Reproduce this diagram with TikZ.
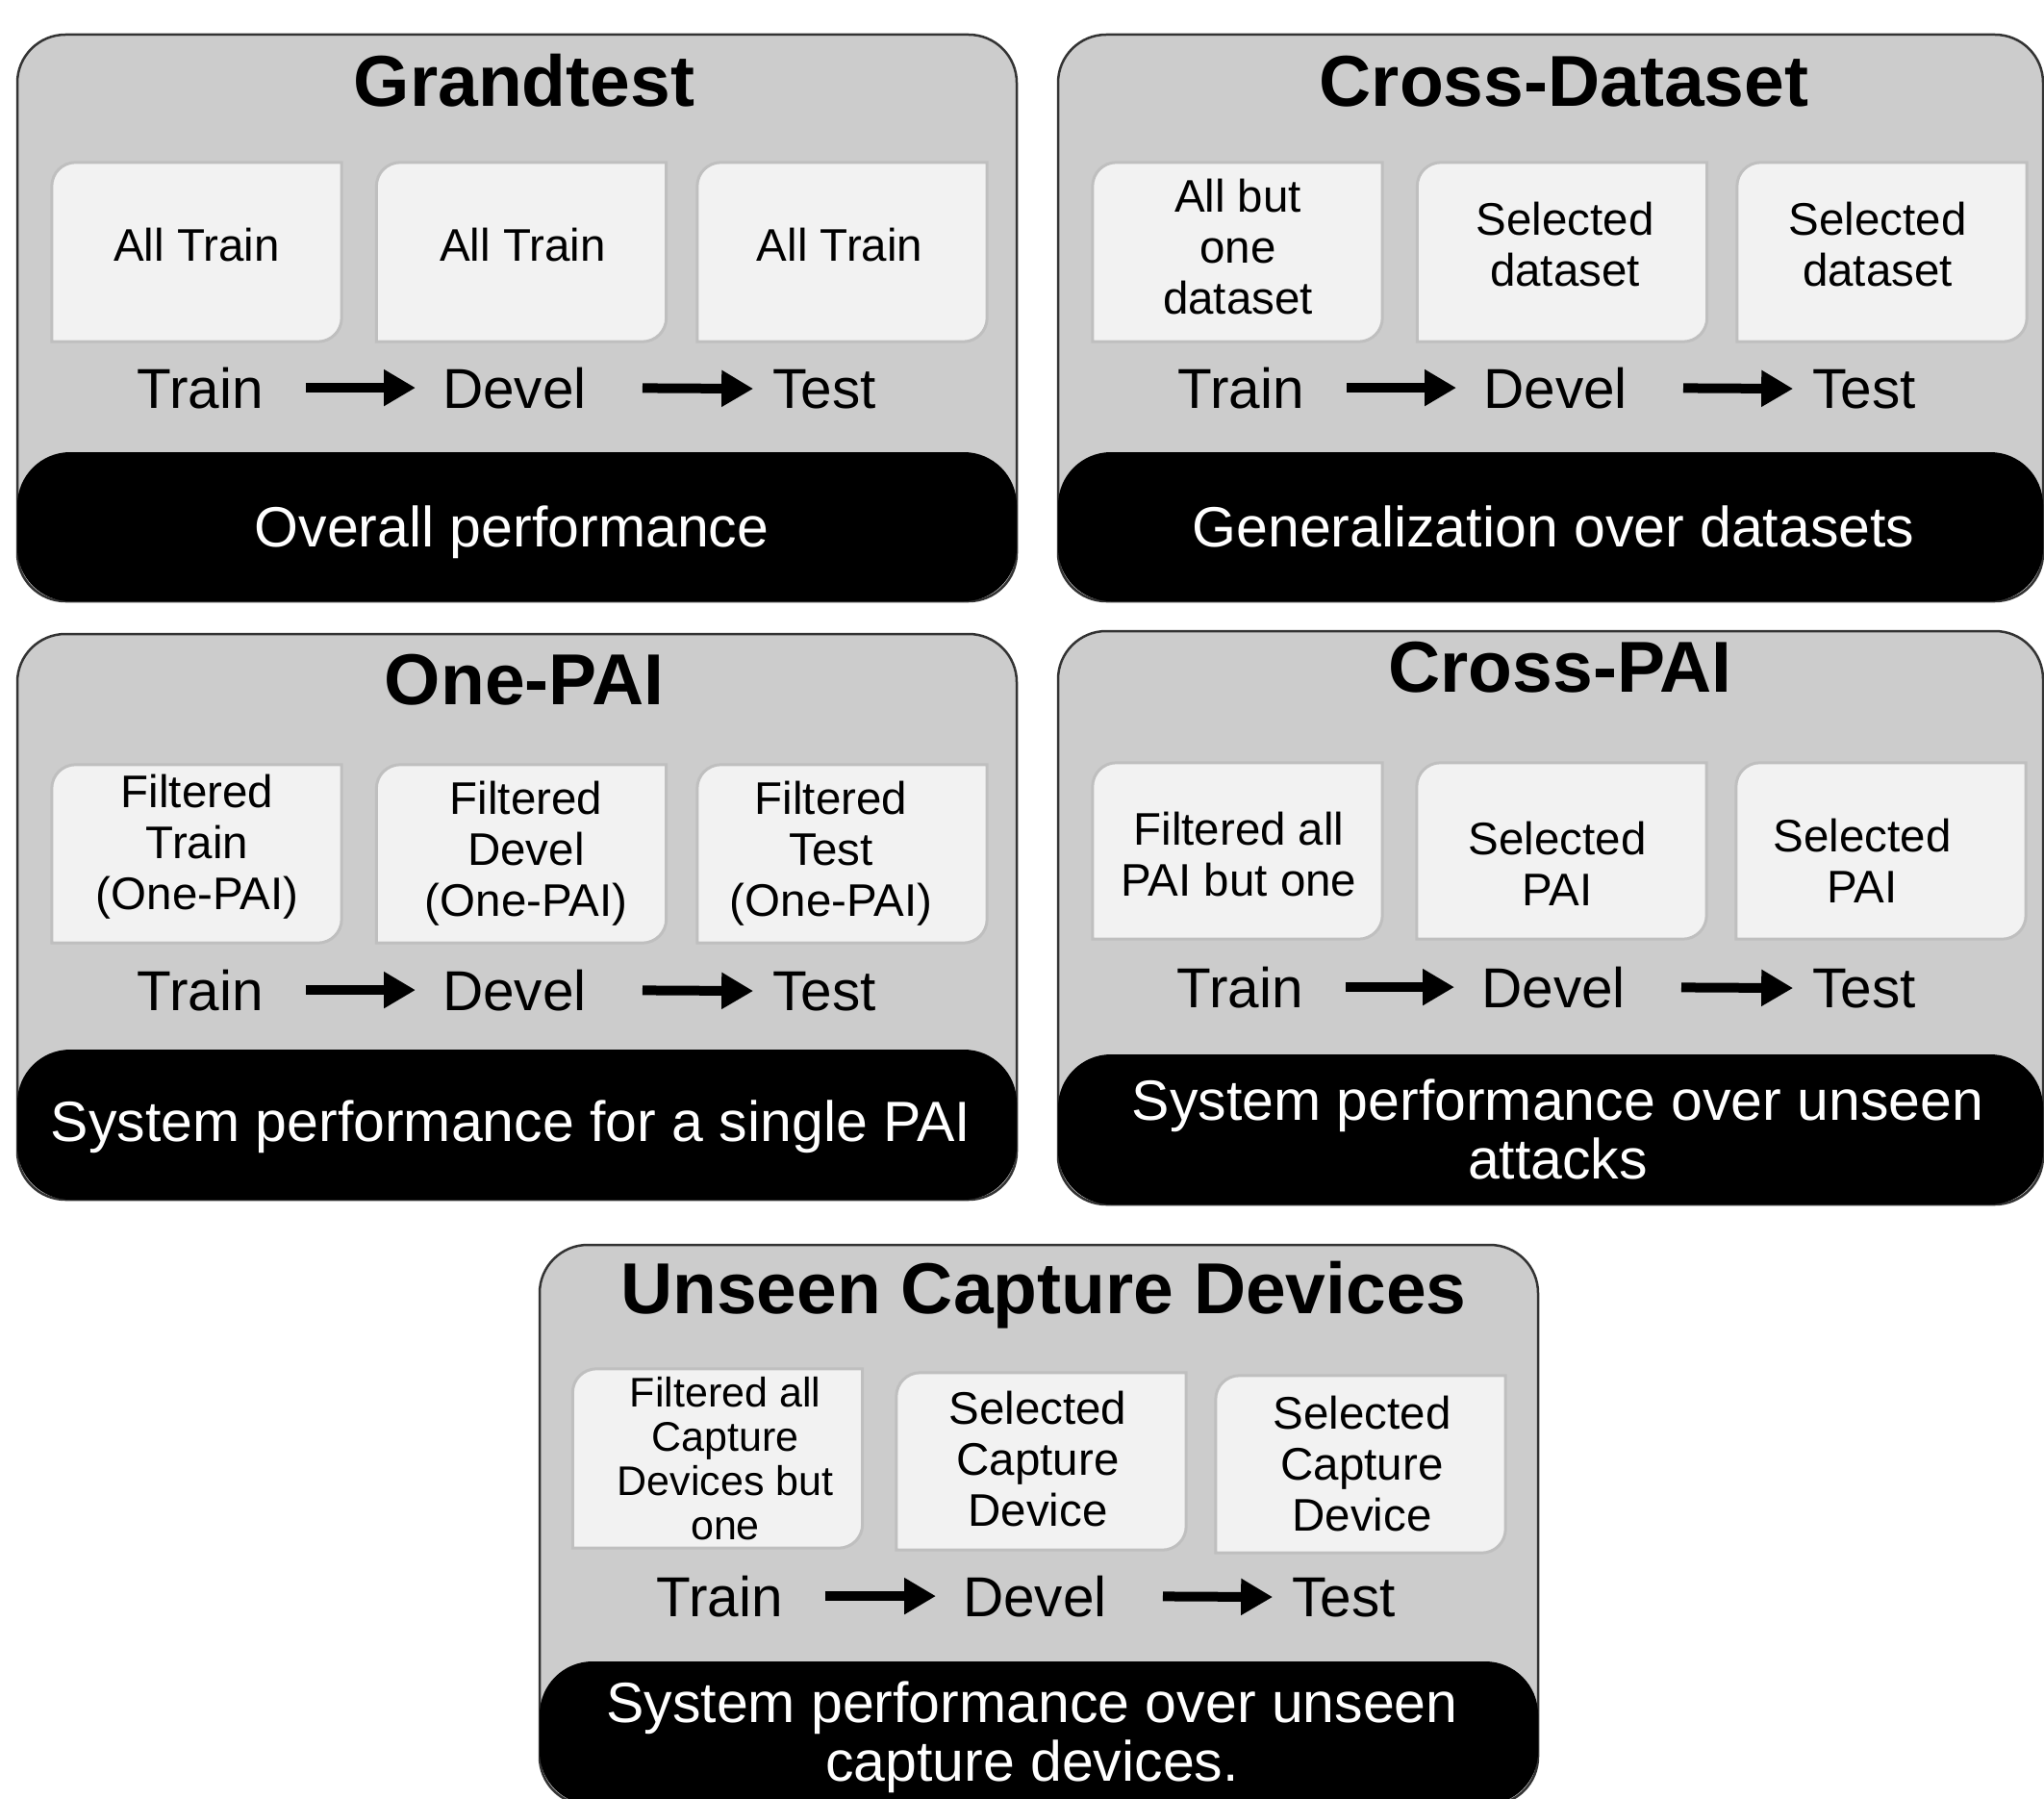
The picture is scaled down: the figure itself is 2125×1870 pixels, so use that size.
\documentclass[tikz,border=0pt]{standalone}
\usepackage{fontspec}
\setmainfont{Liberation Sans}
\usetikzlibrary{arrows.meta}
\definecolor{panelgray}{HTML}{CCCCCC}
\definecolor{boxfill}{HTML}{F2F2F2}
\definecolor{boxedge}{HTML}{BFBFBF}
\definecolor{paneledge}{HTML}{333333}
\tikzset{
 panel/.style={draw=paneledge, line width=2.5pt, fill=panelgray, rounded corners=50pt, inner sep=0pt},
 bar/.style={fill=black, rounded corners=55pt, inner sep=0pt},
 bartxt/.style={text=white, font=\fontsize{59}{61}\selectfont, align=center, inner sep=0pt},
 ttl/.style={font=\bfseries\fontsize{75}{80}\selectfont, anchor=base, inner sep=0pt},
 lbl/.style={font=\fontsize{58.5}{60}\selectfont, anchor=base, inner sep=0pt},
 ibox/.style={inner sep=0pt, minimum width=301pt},
 boxtxt/.style={font=\fontsize{47.5}{53}\selectfont, align=center, inner sep=0pt},
 smalltxt/.style={font=\fontsize{43}{46}\selectfont},
 flow/.style={-{Triangle[length=33pt,width=36pt]}, line width=10pt},
 gapa/.style={shorten <=44pt, shorten >=28pt},
 gapb/.style={shorten <=58pt, shorten >=20pt},
 boxline/.style={draw=boxedge, line width=3pt, fill=boxfill},
}
\newcommand{\cutbox}[1]{%
\draw[boxline] (#1.south west) -- ([yshift=-25pt]#1.north west)
  .. controls ([yshift=-11pt]#1.north west) and ([xshift=11pt]#1.north west) .. ([xshift=25pt]#1.north west)
  -- (#1.north east) -- ([yshift=25pt]#1.south east)
  .. controls ([yshift=11pt]#1.south east) and ([xshift=-11pt]#1.south east) .. ([xshift=-25pt]#1.south east)
  -- cycle;}
\begin{document}
\begin{tikzpicture}[x=1pt,y=-1pt]
\useasboundingbox (0,0) rectangle (2125,1870);

% ---------- panels and bars ----------
\node[panel, minimum width=1039pt, minimum height=589pt] (p1) at (537.5,330.5) {};
\node[panel, minimum width=1024pt, minimum height=589pt] (p2) at (1612,330.5) {};
\node[panel, minimum width=1039pt, minimum height=588pt] (p3) at (537.5,953) {};
\node[panel, minimum width=1024pt, minimum height=596pt] (p4) at (1612,954) {};
\node[panel, minimum width=1038pt, minimum height=582pt] (p5) at (1080,1585) {};

\node[bar, minimum width=1039pt, minimum height=155pt] (b1) at (537.5,547.5) {};
\node[bar, minimum width=1024pt, minimum height=155pt] (b2) at (1612,547.5) {};
\node[bar, minimum width=1039pt, minimum height=156pt] (b3) at (537.5,1169) {};
\node[bar, minimum width=1024pt, minimum height=156pt] (b4) at (1612,1174) {};
\node[bar, minimum width=1038pt, minimum height=149pt] (b5) at (1080,1801.5) {};

\node[bartxt] (b1t) at (532,553) {Overall performance};
\node[bartxt] (b2t) at (1615,547.5) {Generalization over datasets};
\node[bartxt] (b3t) at (531,1171.5) {System performance for a single PAI};
\node[bartxt] (b4t) at (1619.5,1174) {System performance over unseen\\attacks};
\node[bartxt] (b5t) at (1073,1805.5) {System performance over unseen\\capture devices.};

% ---------- Grandtest ----------
\node[ttl] (t1) at (545,111) {Grandtest};
\node[ibox, minimum height=186pt] (a1) at (204.5,262) {};
\node[ibox, minimum height=186pt] (a2) at (542,262) {};
\node[ibox, minimum height=186pt] (a3) at (875.5,262) {};
\cutbox{a1}\cutbox{a2}\cutbox{a3}
\node[boxtxt] (a1t) at (204.5,255) {All Train};
\node[boxtxt] (a2t) at (543.5,255) {All Train};
\node[boxtxt] (a3t) at (873,255) {All Train};
\node[lbl] (tr1) at (208,424) {Train};
\node[lbl] (dv1) at (535,424) {Devel};
\node[lbl] (ts1) at (857,424) {Test};
\draw[flow,gapa] (tr1.east) -- (dv1.west);
\draw[flow,gapb] (dv1.east) -- (ts1.west);

% ---------- Cross-Dataset ----------
\node[ttl] (t2) at (1626,111) {Cross-Dataset};
\node[ibox, minimum height=186pt] (c1) at (1286.5,262) {};
\node[ibox, minimum height=186pt] (c2) at (1624,262) {};
\node[ibox, minimum height=186pt] (c3) at (1956.5,262) {};
\cutbox{c1}\cutbox{c2}\cutbox{c3}
\node[boxtxt] (c1t) at (1287,257) {All but\\one\\dataset};
\node[boxtxt] (c2t) at (1627,254.5) {Selected\\dataset};
\node[boxtxt] (c3t) at (1952,254.5) {Selected\\dataset};
\node[lbl] (tr2) at (1290,424) {Train};
\node[lbl] (dv2) at (1617,424) {Devel};
\node[lbl] (ts2) at (1938,424) {Test};
\draw[flow,gapa] (tr2.east) -- (dv2.west);
\draw[flow,gapb] (dv2.east) -- (ts2.west);

% ---------- One-PAI ----------
\node[ttl] (t3) at (545,732) {One-PAI};
\node[ibox, minimum height=185pt] (d1) at (204.5,887.5) {};
\node[ibox, minimum height=185pt] (d2) at (542,887.5) {};
\node[ibox, minimum height=185pt] (d3) at (875.5,887.5) {};
\cutbox{d1}\cutbox{d2}\cutbox{d3}
\node[boxtxt] (d1t) at (205,880) {Filtered\\Train\\(One-PAI)};
\node[boxtxt] (d2t) at (547,887.5) {Filtered\\Devel\\(One-PAI)};
\node[boxtxt] (d3t) at (864,887.5) {Filtered\\Test\\(One-PAI)};
\node[lbl] (tr3) at (208,1050) {Train};
\node[lbl] (dv3) at (535,1050) {Devel};
\node[lbl] (ts3) at (857,1050) {Test};
\draw[flow,gapa] (tr3.east) -- (dv3.west);
\draw[flow,gapb] (dv3.east) -- (ts3.west);

% ---------- Cross-PAI ----------
\node[ttl] (t4) at (1622,719) {Cross-PAI};
\node[ibox, minimum height=183pt] (e1) at (1286.5,884.5) {};
\node[ibox, minimum height=183pt] (e2) at (1623.5,884.5) {};
\node[ibox, minimum height=183pt] (e3) at (1955.5,884.5) {};
\cutbox{e1}\cutbox{e2}\cutbox{e3}
\node[boxtxt] (e1t) at (1288,888) {Filtered all\\PAI but one};
\node[boxtxt] (e2t) at (1619,897.5) {Selected\\PAI};
\node[boxtxt] (e3t) at (1936,894.5) {Selected\\PAI};
\node[lbl] (tr4) at (1289,1047) {Train};
\node[lbl] (dv4) at (1615,1047) {Devel};
\node[lbl] (ts4) at (1938,1047) {Test};
\draw[flow,gapa] (tr4.east) -- (dv4.west);
\draw[flow,gapb] (dv4.east) -- (ts4.west);

% ---------- Unseen Capture Devices ----------
\node[ttl] (t5) at (1085,1365) {Unseen Capture Devices};
\node[ibox, minimum height=186pt] (f1) at (746,1516) {};
\node[ibox, minimum height=184pt] (f2) at (1082.5,1519) {};
\node[ibox, minimum height=184pt] (f3) at (1414.5,1522) {};
\cutbox{f1}\cutbox{f2}\cutbox{f3}
\node[boxtxt, smalltxt] (f1t) at (754,1516) {Filtered all\\Capture\\Devices but\\one};
\node[boxtxt] (f2t) at (1079,1517) {Selected\\Capture\\Device};
\node[boxtxt] (f3t) at (1416,1522) {Selected\\Capture\\Device};
\node[lbl] (tr5) at (748,1680) {Train};
\node[lbl] (dv5) at (1076,1680) {Devel};
\node[lbl] (ts5) at (1397,1680) {Test};
\draw[flow,gapa] (tr5.east) -- (dv5.west);
\draw[flow,gapb] (dv5.east) -- (ts5.west);
\end{tikzpicture}
\end{document}
